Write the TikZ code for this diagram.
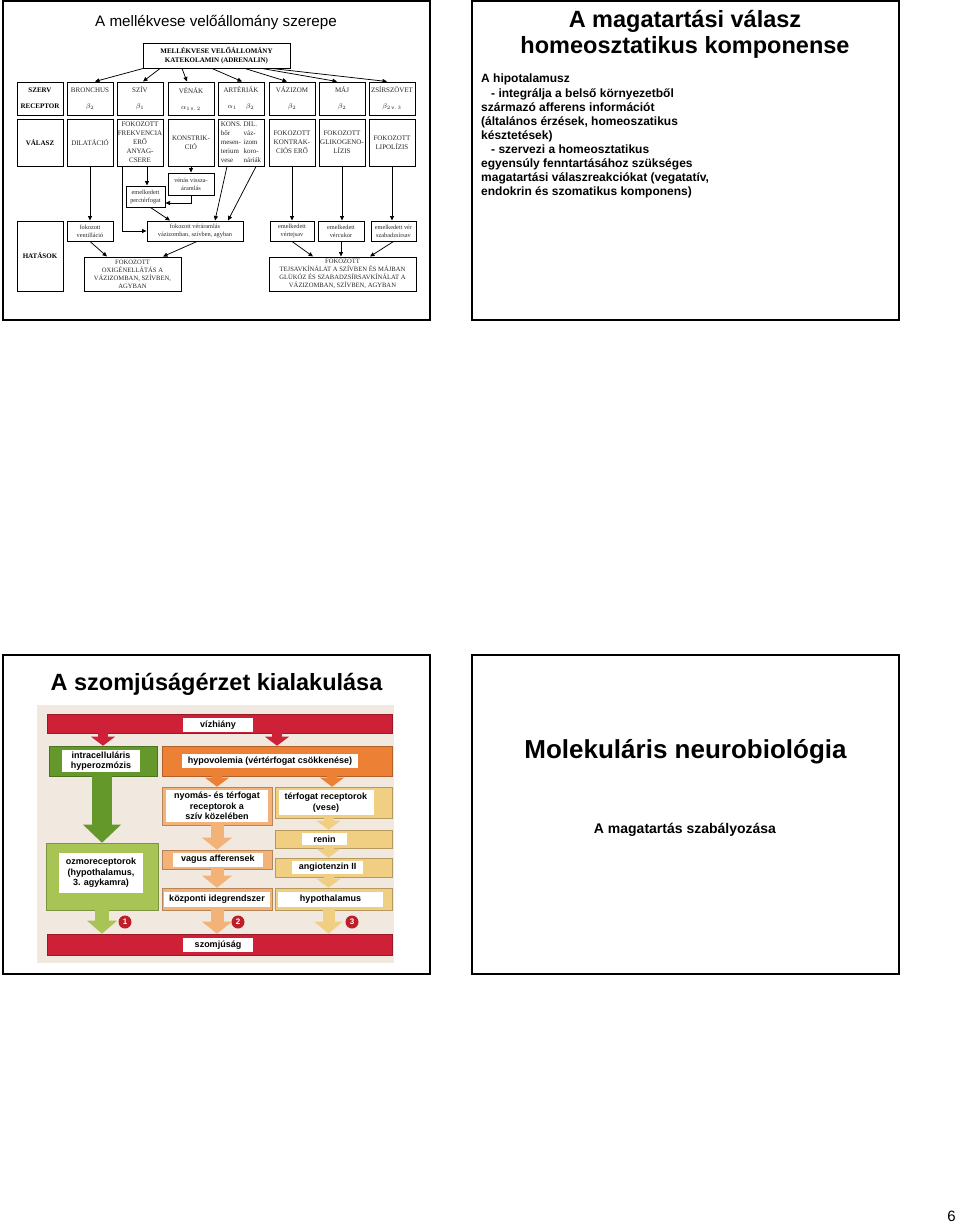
\documentclass[tikz,border=0pt]{standalone}
\usepackage{fontspec}
\setmainfont{Liberation Sans}
\newfontfamily\serifdia{Liberation Serif}
\usetikzlibrary{arrows.meta, positioning, calc}

\definecolor{szred}{RGB}{206,32,54}
\definecolor{szgreen}{RGB}{100,152,42}
\definecolor{szlgreen}{RGB}{168,196,84}
\definecolor{szorange}{RGB}{236,128,52}
\definecolor{szlorange}{RGB}{242,178,120}
\definecolor{szyellow}{RGB}{240,206,130}
\definecolor{szbeige}{RGB}{241,233,223}
\definecolor{szdark}{RGB}{188,30,42}

\newcommand{\diafont}{\serifdia\fontsize{7}{9}\selectfont}
\newcommand{\lcfont}{\serifdia\fontsize{6.3}{8}\selectfont}
\newcommand{\thirstfont}{\bfseries\fontsize{9}{10.5}\selectfont}

\begin{document}
\begin{tikzpicture}[x=1pt, y=-1pt,
  slide/.style={draw, line width=1.7pt},
  cell/.style={draw, line width=1pt, inner sep=0.5pt, align=center, font=\diafont, text=black!85},
  hdr/.style={text=black, font=\diafont\bfseries},
  row1/.style={cell, minimum width=46pt, minimum height=33pt},
  row2/.style={cell, minimum width=46pt, minimum height=47pt},
  low/.style={cell, minimum height=20pt, font=\lcfont},
  arr/.style={-{Triangle[length=4.5pt,width=4pt]}, line width=0.75pt},
  bar/.style={draw=#1!75!black, fill=#1, line width=0.6pt, inner sep=0pt},
  lbl/.style={fill=white, inner sep=0pt, align=center, font=\thirstfont},
  blk/.style={draw=#1, line width=10pt,
              -{Triangle[length=9pt 0 0, width=24pt 0 0, line width=0pt]}},
  numc/.style={circle, fill=szdark, text=white, font=\bfseries\fontsize{8}{8}\selectfont,
               minimum size=13pt, inner sep=0pt}
]
\useasboundingbox (0,0) rectangle (960,1229);

% the four slide frames
\draw[slide] (3,1) rectangle (430,320);
\draw[slide] (472,1) rectangle (899,320);
\draw[slide] (3,655) rectangle (430,974);
\draw[slide] (472,655) rectangle (899,974);

% slide 1
\node[font=\fontsize{15.2}{18}\selectfont, anchor=base] (t1) at (216,26.5) {A mellékvese velőállomány szerepe};
\node[cell, hdr, minimum width=147pt, minimum height=25pt] (mv) at (216.5,55.5) {MELLÉKVESE VELŐÁLLOMÁNY\\KATEKOLAMIN (ADRENALIN)};

\node[row1, hdr] (szerv) at (40,98.5) {SZERV\\[7pt]RECEPTOR};
\node[row1] (bronch) at (90,98.5) {BRONCHUS\\[7pt]$\beta_2$};
\node[row1] (sziv) at (140,98.5) {SZÍV\\[7pt]$\beta_1$};
\node[row1] (venak) at (191,98.5) {VÉNÁK\\[7pt]$\alpha_{1\,\mathrm{v.}\,2}$};
\node[row1] (arter) at (241,98.5) {ARTÉRIÁK\\[7pt]$\alpha_1$\hspace{9pt}$\beta_2$};
\node[row1] (vaz) at (292,98.5) {VÁZIZOM\\[7pt]$\beta_2$};
\node[row1] (maj) at (342,98.5) {MÁJ\\[7pt]$\beta_2$};
\node[row1] (zsir) at (392,98.5) {ZSÍRSZÖVET\\[7pt]$\beta_{2\,\mathrm{v.}\,3}$};

\node[row2, hdr] (valasz) at (40,142.5) {VÁLASZ};
\node[row2] (dilat) at (90,142.5) {DILATÁCIÓ};
\node[row2] (frekv) at (140,142.5) {FOKOZOTT\\FREKVENCIA\\ERŐ\\ANYAG-\\CSERE};
\node[row2] (konstr) at (191,142.5) {KONSTRIK-\\CIÓ};
\node[row2] (arterv) at (241,142.5) {\begin{tabular}{@{}l@{\hspace{2pt}}l@{}}KONS. & DIL.\\bőr & váz-\\mesen- & izom\\terium & koro-\\vese & náriák\end{tabular}};
\node[row2] (kontr) at (292,142.5) {FOKOZOTT\\KONTRAK-\\CIÓS ERŐ};
\node[row2] (glik) at (342,142.5) {FOKOZOTT\\GLIKOGENO-\\LÍZIS};
\node[row2] (lipol) at (392,142.5) {FOKOZOTT\\LIPOLÍZIS};

\node[low, minimum width=46pt, minimum height=22pt] (venviss) at (191,184) {vénás vissza-\\áramlás};
\node[low, minimum width=39pt, minimum height=21pt] (perc) at (145.5,196.5) {emelkedett\\perctérfogat};

\node[cell, hdr, minimum width=46pt, minimum height=70pt] (hatasok) at (40,256) {HATÁSOK};
\node[low, minimum width=46pt] (vent) at (90,231) {fokozott\\ventilláció};
\node[low, minimum width=96pt] (verar) at (195,231) {fokozott véráramlás\\vázizomban, szívben, agyban};
\node[low, minimum width=44pt] (tejsav) at (292,231) {emelkedett\\vértejsav};
\node[low, minimum width=46pt] (vercukor) at (341,231) {emelkedett\\vércukor};
\node[low, minimum width=45pt] (szabzs) at (393.5,231) {emelkedett vér\\szabadzsírsav};
\node[cell, minimum width=97pt, minimum height=34pt, font=\serifdia\fontsize{6.6}{7.9}\selectfont] (oxig) at (132.5,274) {FOKOZOTT\\OXIGÉNELLÁTÁS A\\VÁZIZOMBAN, SZÍVBEN,\\AGYBAN};
\node[cell, minimum width=147pt, minimum height=34pt, font=\serifdia\fontsize{6.6}{7.9}\selectfont] (kinalat) at (342.5,274) {FOKOZOTT\\TEJSAVKÍNÁLAT A SZÍVBEN ÉS MÁJBAN\\GLÜKÓZ ÉS SZABADZSÍRSAVKÍNÁLAT A\\VÁZIZOMBAN, SZÍVBEN, AGYBAN};

\draw[arr] ([xshift=-73.5pt]mv.south) -- ([xshift=5pt]bronch.north);
\draw[arr] ([xshift=-56.5pt]mv.south) -- ([xshift=3pt]sziv.north);
\draw[arr] ([xshift=-34.5pt]mv.south) -- ([xshift=-4pt]venak.north);
\draw[arr] ([xshift=-4.5pt]mv.south) -- ([xshift=1pt]arter.north);
\draw[arr] ([xshift=28.5pt]mv.south) -- ([xshift=-5pt]vaz.north);
\draw[arr] ([xshift=45.5pt]mv.south) -- ([xshift=-5pt]maj.north);
\draw[arr] ([xshift=55.5pt]mv.south) -- ([xshift=-5pt]zsir.north);

\draw[arr] (dilat.south) -- (vent.north);
\draw[arr] ([xshift=-18pt]frekv.south) |- (verar.west);
\draw[arr] ([xshift=7pt]frekv.south) -- ([xshift=1.5pt]perc.north);
\draw[arr] (konstr.south) -- (venviss.north);
\draw[arr] (venviss.south) |- ([yshift=-6.5pt]perc.east);
\draw[arr] ([xshift=5pt]perc.south) -- ([xshift=-25pt]verar.north);
\draw[arr] ([xshift=-14pt]arterv.south) -- ([xshift=20pt]verar.north);
\draw[arr] ([xshift=15pt]arterv.south) -- ([xshift=33pt]verar.north);
\draw[arr] (kontr.south) -- (tejsav.north);
\draw[arr] (glik.south) -- (glik.south |- vercukor.north);
\draw[arr] (lipol.south) -- (lipol.south |- szabzs.north);
\draw[arr] (vent.south) -- ([xshift=-25.5pt]oxig.north);
\draw[arr] ([xshift=2pt]verar.south) -- ([xshift=30.5pt]oxig.north);
\draw[arr] (tejsav.south) -- ([xshift=-29.5pt]kinalat.north);
\draw[arr] (vercukor.south) -- (vercukor.south |- kinalat.north);
\draw[arr] (szabzs.south) -- ([xshift=27.5pt]kinalat.north);

% slide 2
\node[font=\bfseries\fontsize{23.5}{26}\selectfont, anchor=base] (t2a) at (685,27) {A magatartási válasz};
\node[font=\bfseries\fontsize{23.5}{26}\selectfont, anchor=base] (t2b) at (685,53) {homeosztatikus komponense};
\node[anchor=north west, align=left, inner sep=0pt, font=\bfseries\fontsize{12}{14.1}\selectfont] (hipo) at (481,74) {A hipotalamusz\\
\hspace*{10pt}- integrálja a belső környezetből\\
származó afferens információt\\
(általános érzések, homeoszatikus\\
késztetések)\\
\hspace*{10pt}- szervezi a homeosztatikus\\
egyensúly fenntartásához szükséges\\
magatartási válaszreakciókat (vegatatív,\\
endokrin és szomatikus komponens)};

% slide 3
\node[font=\bfseries\fontsize{23.5}{26}\selectfont, anchor=base] (t3) at (216.5,690) {A szomjúságérzet kialakulása};
\fill[szbeige] (37,705) rectangle (394,963);

\node[bar=szred, minimum width=345pt, minimum height=19pt] (vizh) at (219.5,723.5) {};
\node[lbl, minimum width=70pt, minimum height=14pt] (vizhl) at (218,725) {vízhiány};
\node[bar=szgreen, minimum width=108pt, minimum height=30pt] (intra) at (103,761) {};
\node[lbl, minimum width=78pt, minimum height=22pt] (intral) at (101,761) {intracelluláris\\hyperozmózis};
\node[bar=szorange, minimum width=230pt, minimum height=30pt] (hypo) at (277,761) {};
\node[lbl, minimum width=176pt, minimum height=14pt] (hypol) at (270,761) {hypovolemia (vértérfogat csökkenése)};
\node[bar=szlorange, minimum width=110pt, minimum height=38pt] (nyom) at (217,806) {};
\node[lbl, minimum width=102pt, minimum height=32pt] (nyoml) at (217,806) {nyomás- és térfogat\\receptorok a\\szív közelében};
\node[bar=szyellow, minimum width=117pt, minimum height=31pt] (terf) at (333.5,802.5) {};
\node[lbl, minimum width=95pt, minimum height=25pt] (terfl) at (326,802.5) {térfogat receptorok\\(vese)};
\node[bar=szlgreen, minimum width=112pt, minimum height=67pt] (ozmo) at (102,876.5) {};
\node[lbl, minimum width=84pt, minimum height=40pt] (ozmol) at (101,873) {ozmoreceptorok\\(hypothalamus,\\3. agykamra)};
\node[bar=szlorange, minimum width=110pt, minimum height=19pt] (vagus) at (217,859.5) {};
\node[lbl, minimum width=90pt, minimum height=14pt] (vagusl) at (218,859.5) {vagus afferensek};
\node[bar=szlorange, minimum width=110pt, minimum height=22pt] (kozp) at (217,899) {};
\node[lbl, minimum width=106pt, minimum height=15pt] (kozpl) at (217,899.5) {központi idegrendszer};
\node[bar=szyellow, minimum width=117pt, minimum height=18pt] (renin) at (333.5,839) {};
\node[lbl, minimum width=45pt, minimum height=12pt] (reninl) at (324.5,839) {renin};
\node[bar=szyellow, minimum width=117pt, minimum height=19pt] (angio) at (333.5,867.5) {};
\node[lbl, minimum width=71pt, minimum height=13pt] (angiol) at (327.5,867.5) {angiotenzin II};
\node[bar=szyellow, minimum width=117pt, minimum height=22pt] (hypot) at (333.5,899) {};
\node[lbl, minimum width=105pt, minimum height=15pt] (hypotl) at (330.5,899.5) {hypothalamus};
\node[bar=szred, minimum width=345pt, minimum height=21pt] (szomj) at (219.5,944.5) {};
\node[lbl, minimum width=70pt, minimum height=14pt] (szomjl) at (218,945) {szomjúság};

\draw[blk=szred] (intra.north |- vizh.south) -- (intra.north);
\draw[blk=szred] (hypo.north |- vizh.south) -- (hypo.north);
\draw[blk=szgreen, line width=20pt, -{Triangle[length=18pt 0 0, width=38pt 0 0, line width=0pt]}] (ozmo.north |- intra.south) -- (ozmo.north);
\draw[blk=szorange] (nyom.north |- hypo.south) -- (nyom.north);
\draw[blk=szorange] ([xshift=-1.5pt]terf.north |- hypo.south) -- ([xshift=-1.5pt]terf.north);
\draw[blk=szlorange, line width=13pt, -{Triangle[length=12pt 0 0, width=30pt 0 0, line width=0pt]}] (nyom.south) -- (vagus.north);
\draw[blk=szlorange, line width=13pt, -{Triangle[length=12pt 0 0, width=30pt 0 0, line width=0pt]}] (vagus.south) -- (kozp.north);
\draw[blk=szlorange, line width=13pt, -{Triangle[length=12pt 0 0, width=30pt 0 0, line width=0pt]}] (kozp.south) -- (kozp.south |- szomj.north);
\draw[blk=szlgreen, line width=14pt, -{Triangle[length=13pt 0 0, width=30pt 0 0, line width=0pt]}] (ozmo.south) -- (ozmo.south |- szomj.north);
\draw[blk=szyellow] ([xshift=-5pt]terf.south) -- ([xshift=-5pt]renin.north);
\draw[blk=szyellow] ([xshift=-5pt]renin.south) -- ([xshift=-5pt]angio.north);
\draw[blk=szyellow] ([xshift=-5pt]angio.south) -- ([xshift=-5pt]hypot.north);
\draw[blk=szyellow, line width=12pt, -{Triangle[length=12pt 0 0, width=28pt 0 0, line width=0pt]}] ([xshift=-5pt]hypot.south) -- ([xshift=-5pt]hypot.south |- szomj.north);

\node[numc] (n1) at (125,922) {1};
\node[numc] (n2) at (238,922) {2};
\node[numc] (n3) at (352,922) {3};

% slide 4
\node[font=\bfseries\fontsize{26}{28}\selectfont, anchor=base] (t4) at (685.5,758) {Molekuláris neurobiológia};
\node[font=\bfseries\fontsize{14}{16}\selectfont, anchor=base] (s4) at (685,833) {A magatartás szabályozása};

% page number
\node[font=\fontsize{15}{17}\selectfont, anchor=base] (pg) at (951.5,1221) {6};
\end{tikzpicture}
\end{document}
